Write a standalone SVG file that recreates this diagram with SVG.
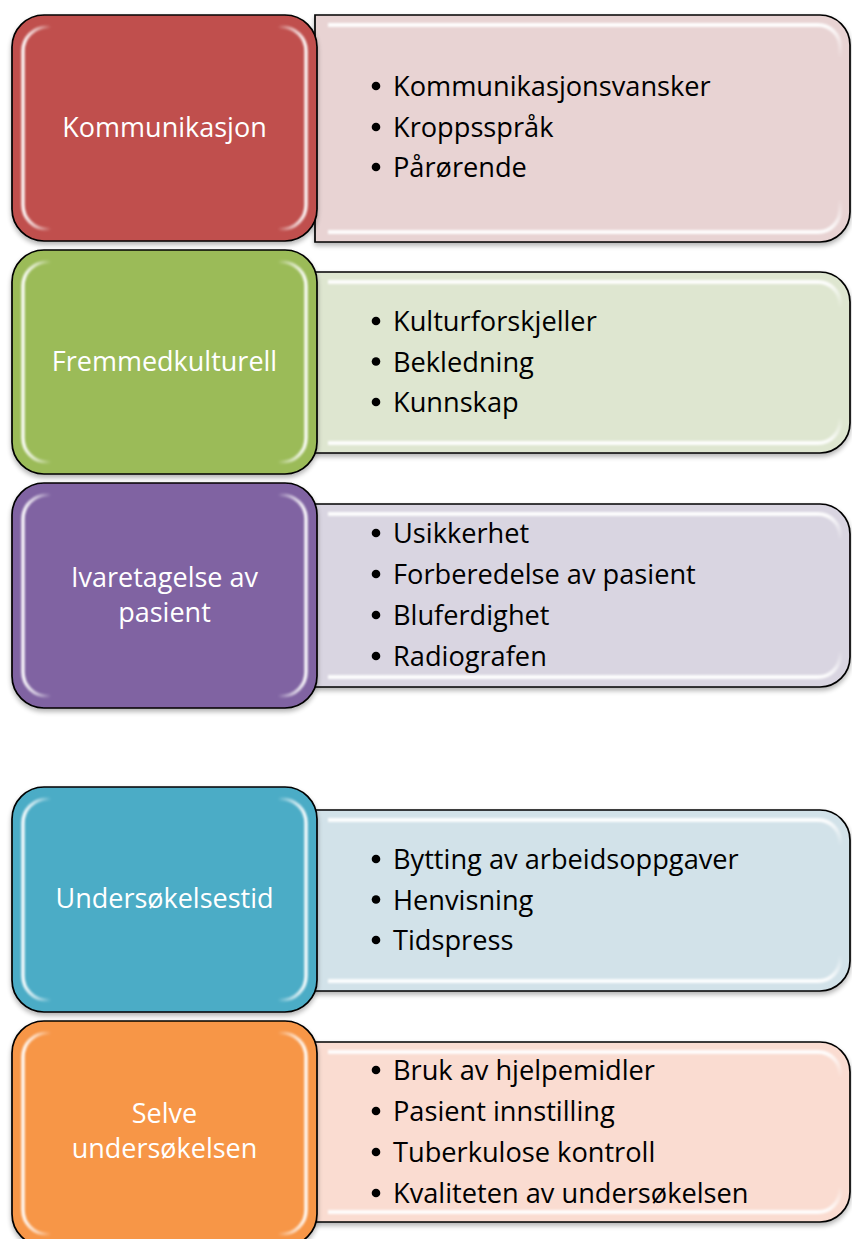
<svg xmlns="http://www.w3.org/2000/svg" width="852" height="1239" viewBox="0 0 852 1239">
<defs>
<style>
.lbl{font-family:"Open Sans","Noto Sans",sans-serif;font-size:27px;fill:#fff;text-anchor:middle}
.itm{font-family:"Open Sans","Noto Sans",sans-serif;font-size:27.2px;fill:#000}
.bul{fill:#000}
.edge{stroke:#000;stroke-width:1.7}
.hlL{fill:none;stroke:url(#gH);stroke-width:3.5;filter:url(#soft)}
.hlR{fill:none;stroke:url(#gV);stroke-width:4;filter:url(#soft)}
</style>
<linearGradient id="gH" x1="0" y1="0" x2="1" y2="0">
<stop offset="0" stop-color="#fff" stop-opacity="0.95"/>
<stop offset="0.05" stop-color="#fff" stop-opacity="0.55"/>
<stop offset="0.1" stop-color="#fff" stop-opacity="0"/>
<stop offset="0.9" stop-color="#fff" stop-opacity="0"/>
<stop offset="0.95" stop-color="#fff" stop-opacity="0.55"/>
<stop offset="1" stop-color="#fff" stop-opacity="0.95"/>
</linearGradient>
<linearGradient id="gV" x1="0" y1="0" x2="0" y2="1">
<stop offset="0" stop-color="#fff" stop-opacity="0.95"/>
<stop offset="0.08" stop-color="#fff" stop-opacity="0.4"/>
<stop offset="0.16" stop-color="#fff" stop-opacity="0"/>
<stop offset="0.84" stop-color="#fff" stop-opacity="0"/>
<stop offset="0.92" stop-color="#fff" stop-opacity="0.4"/>
<stop offset="1" stop-color="#fff" stop-opacity="0.95"/>
</linearGradient>
<filter id="soft" x="-5%" y="-5%" width="110%" height="110%"><feGaussianBlur stdDeviation="0.8"/></filter>
<filter id="shd" x="-5%" y="-5%" width="110%" height="115%">
<feGaussianBlur in="SourceAlpha" stdDeviation="2.5"/>
<feOffset dy="3" result="b"/>
<feComponentTransfer><feFuncA type="linear" slope="0.3"/></feComponentTransfer>
<feMerge><feMergeNode/><feMergeNode in="SourceGraphic"/></feMerge>
</filter>
</defs>

<g id="row1">
<g id="row1-items">
<path class="edge" filter="url(#shd)" fill="#E8D3D3" d="M315,15 H820 A30,30 0 0 1 850,45 V212 A30,30 0 0 1 820,242 H315 Z"/>
<path class="hlR" d="M328,25 H818 A22,22 0 0 1 840,47 V210 A22,22 0 0 1 818,232 H328"/>
<circle class="bul" cx="376" cy="86" r="4.3"/><text class="itm" x="393" y="96">Kommunikasjonsvansker</text>
<circle class="bul" cx="376" cy="127" r="4.3"/><text class="itm" x="393" y="137">Kroppsspråk</text>
<circle class="bul" cx="376" cy="167" r="4.3"/><text class="itm" x="393" y="177">Pårørende</text>
</g>
<g id="row1-label">
<rect class="edge" filter="url(#shd)" x="12" y="15" width="305" height="226" rx="32" fill="#C0504D"/>
<rect class="hlL" x="23" y="27" width="283" height="202" rx="24"/>
<text class="lbl" x="164.5" y="137">Kommunikasjon</text>
</g>
</g>

<g id="row2">
<g id="row2-items">
<path class="edge" filter="url(#shd)" fill="#DEE6D0" d="M315,272 H820 A30,30 0 0 1 850,302 V423 A30,30 0 0 1 820,453 H315 Z"/>
<path class="hlR" d="M328,282 H818 A22,22 0 0 1 840,304 V421 A22,22 0 0 1 818,443 H328"/>
<circle class="bul" cx="376" cy="321" r="4.3"/><text class="itm" x="393" y="331">Kulturforskjeller</text>
<circle class="bul" cx="376" cy="361.5" r="4.3"/><text class="itm" x="393" y="371.5">Bekledning</text>
<circle class="bul" cx="376" cy="402" r="4.3"/><text class="itm" x="393" y="412">Kunnskap</text>
</g>
<g id="row2-label">
<rect class="edge" filter="url(#shd)" x="12" y="250" width="305" height="224" rx="32" fill="#9BBB59"/>
<rect class="hlL" x="23" y="262" width="283" height="200" rx="24"/>
<text class="lbl" x="164.5" y="371">Fremmedkulturell</text>
</g>
</g>

<g id="row3">
<g id="row3-items">
<path class="edge" filter="url(#shd)" fill="#D9D5E1" d="M315,504 H820 A30,30 0 0 1 850,534 V657 A30,30 0 0 1 820,687 H315 Z"/>
<path class="hlR" d="M328,514 H818 A22,22 0 0 1 840,536 V655 A22,22 0 0 1 818,677 H328"/>
<circle class="bul" cx="376" cy="533" r="4.3"/><text class="itm" x="393" y="543">Usikkerhet</text>
<circle class="bul" cx="376" cy="574" r="4.3"/><text class="itm" x="393" y="584">Forberedelse av pasient</text>
<circle class="bul" cx="376" cy="615" r="4.3"/><text class="itm" x="393" y="625">Bluferdighet</text>
<circle class="bul" cx="376" cy="656" r="4.3"/><text class="itm" x="393" y="666">Radiografen</text>
</g>
<g id="row3-label">
<rect class="edge" filter="url(#shd)" x="12" y="483" width="305" height="225" rx="32" fill="#8064A2"/>
<rect class="hlL" x="23" y="495" width="283" height="201" rx="24"/>
<text class="lbl" x="164.5" y="587">Ivaretagelse av</text>
<text class="lbl" x="164.5" y="622">pasient</text>
</g>
</g>

<g id="row4">
<g id="row4-items">
<path class="edge" filter="url(#shd)" fill="#D2E2E9" d="M315,810 H820 A30,30 0 0 1 850,840 V961 A30,30 0 0 1 820,991 H315 Z"/>
<path class="hlR" d="M328,820 H818 A22,22 0 0 1 840,842 V959 A22,22 0 0 1 818,981 H328"/>
<circle class="bul" cx="376" cy="859" r="4.3"/><text class="itm" x="393" y="869">Bytting av arbeidsoppgaver</text>
<circle class="bul" cx="376" cy="899.5" r="4.3"/><text class="itm" x="393" y="909.5">Henvisning</text>
<circle class="bul" cx="376" cy="940" r="4.3"/><text class="itm" x="393" y="950">Tidspress</text>
</g>
<g id="row4-label">
<rect class="edge" filter="url(#shd)" x="12" y="787" width="305" height="225" rx="32" fill="#4BACC6"/>
<rect class="hlL" x="23" y="799" width="283" height="201" rx="24"/>
<text class="lbl" x="164.5" y="908">Undersøkelsestid</text>
</g>
</g>

<g id="row5">
<g id="row5-items">
<path class="edge" filter="url(#shd)" fill="#FADCD1" d="M315,1042 H820 A30,30 0 0 1 850,1072 V1192 A30,30 0 0 1 820,1222 H315 Z"/>
<path class="hlR" d="M328,1052 H818 A22,22 0 0 1 840,1074 V1190 A22,22 0 0 1 818,1212 H328"/>
<circle class="bul" cx="376" cy="1070" r="4.3"/><text class="itm" x="393" y="1080">Bruk av hjelpemidler</text>
<circle class="bul" cx="376" cy="1111" r="4.3"/><text class="itm" x="393" y="1121">Pasient innstilling</text>
<circle class="bul" cx="376" cy="1152" r="4.3"/><text class="itm" x="393" y="1162">Tuberkulose kontroll</text>
<circle class="bul" cx="376" cy="1193" r="4.3"/><text class="itm" x="393" y="1203">Kvaliteten av undersøkelsen</text>
</g>
<g id="row5-label">
<rect class="edge" filter="url(#shd)" x="12" y="1021" width="305" height="225" rx="32" fill="#F79646"/>
<rect class="hlL" x="23" y="1033" width="283" height="201" rx="24"/>
<text class="lbl" x="164.5" y="1123">Selve</text>
<text class="lbl" x="164.5" y="1158">undersøkelsen</text>
</g>
</g>

<g id="connectors"/>
</svg>
